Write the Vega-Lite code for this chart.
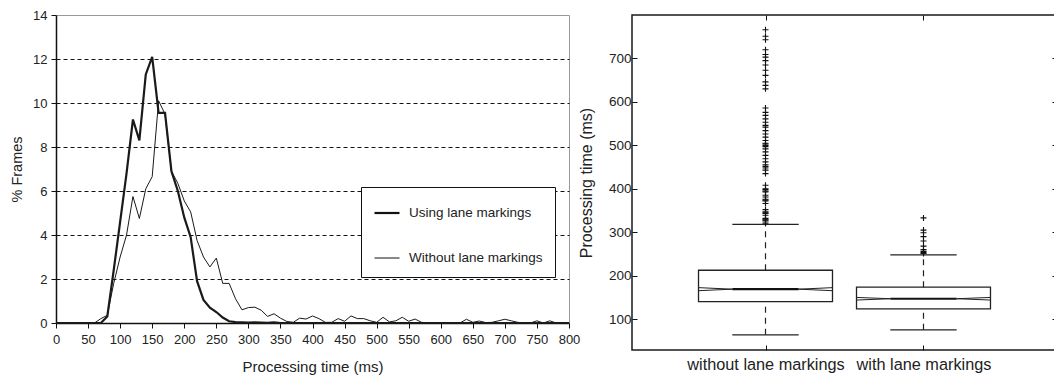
{
  "$schema": "https://vega.github.io/schema/vega-lite/v6.json",
  "padding": {"left": 9, "top": 8, "right": 0, "bottom": 0},
  "autosize": {"type": "pad"},
  "background": "white",
  "config": {
    "font": "Liberation Sans",
    "axis": {"labelFont": "Liberation Sans", "titleFont": "Liberation Sans", "titleFontWeight": "normal", "labelColor": "#222", "titleColor": "#222", "domainColor": "#111", "tickColor": "#111", "grid": false, "labelFlush": false, "labelOverlap": false},
    "legend": {"labelFont": "Liberation Sans", "labelColor": "#222"}
  },
  "bounds": "flush",
  "spacing": 63,
  "datasets": {
    "freq": [
      {"t": 0, "using": 0, "without": 0}, {"t": 10, "using": 0, "without": 0}, {"t": 20, "using": 0, "without": 0},
      {"t": 30, "using": 0, "without": 0}, {"t": 40, "using": 0, "without": 0}, {"t": 50, "using": 0, "without": 0},
      {"t": 60, "using": 0, "without": 0}, {"t": 70, "using": 0, "without": 0.2}, {"t": 80, "using": 0.3, "without": 0.35},
      {"t": 90, "using": 2.4, "without": 1.8}, {"t": 100, "using": 4.6, "without": 3.0}, {"t": 110, "using": 6.8, "without": 4.0},
      {"t": 120, "using": 9.25, "without": 5.75}, {"t": 130, "using": 8.3, "without": 4.75}, {"t": 140, "using": 11.3, "without": 6.1},
      {"t": 150, "using": 12.1, "without": 6.65}, {"t": 160, "using": 9.55, "without": 10.1}, {"t": 170, "using": 9.55, "without": 9.5},
      {"t": 180, "using": 6.9, "without": 6.9}, {"t": 190, "using": 6.0, "without": 6.35}, {"t": 200, "using": 4.8, "without": 5.55},
      {"t": 210, "using": 3.9, "without": 5.05}, {"t": 220, "using": 1.9, "without": 3.75}, {"t": 230, "using": 1.05, "without": 3.0},
      {"t": 240, "using": 0.7, "without": 2.55}, {"t": 250, "using": 0.5, "without": 2.95}, {"t": 260, "using": 0.25, "without": 1.8},
      {"t": 270, "using": 0.08, "without": 1.8}, {"t": 280, "using": 0.04, "without": 1.1}, {"t": 290, "using": 0.03, "without": 0.6},
      {"t": 300, "using": 0.02, "without": 0.7}, {"t": 310, "using": 0.03, "without": 0.72}, {"t": 320, "using": 0.02, "without": 0.58},
      {"t": 330, "using": 0.01, "without": 0.3}, {"t": 340, "using": 0.03, "without": 0.42}, {"t": 350, "using": 0, "without": 0.22},
      {"t": 360, "using": 0, "without": 0.07}, {"t": 370, "using": 0, "without": 0.03}, {"t": 380, "using": 0, "without": 0.22},
      {"t": 390, "using": 0, "without": 0.18}, {"t": 400, "using": 0, "without": 0.32}, {"t": 410, "using": 0, "without": 0.2},
      {"t": 420, "using": 0, "without": 0.03}, {"t": 430, "using": 0, "without": 0.03}, {"t": 440, "using": 0, "without": 0.2},
      {"t": 450, "using": 0, "without": 0.08}, {"t": 460, "using": 0, "without": 0.32}, {"t": 470, "using": 0, "without": 0.2},
      {"t": 480, "using": 0, "without": 0.2}, {"t": 490, "using": 0, "without": 0.1}, {"t": 500, "using": 0, "without": 0.03},
      {"t": 510, "using": 0, "without": 0.26}, {"t": 520, "using": 0, "without": 0.05}, {"t": 530, "using": 0, "without": 0.1},
      {"t": 540, "using": 0, "without": 0.26}, {"t": 550, "using": 0, "without": 0.08}, {"t": 560, "using": 0, "without": 0.18},
      {"t": 570, "using": 0, "without": 0.03}, {"t": 580, "using": 0, "without": 0.01}, {"t": 590, "using": 0, "without": 0},
      {"t": 600, "using": 0, "without": 0}, {"t": 610, "using": 0, "without": 0}, {"t": 620, "using": 0, "without": 0},
      {"t": 630, "using": 0, "without": 0}, {"t": 640, "using": 0, "without": 0.17}, {"t": 650, "using": 0, "without": 0.03},
      {"t": 660, "using": 0, "without": 0.09}, {"t": 670, "using": 0, "without": 0.02}, {"t": 680, "using": 0, "without": 0.03},
      {"t": 690, "using": 0, "without": 0.1}, {"t": 700, "using": 0, "without": 0.17}, {"t": 710, "using": 0, "without": 0.1},
      {"t": 720, "using": 0, "without": 0.03}, {"t": 730, "using": 0, "without": 0}, {"t": 740, "using": 0, "without": 0},
      {"t": 750, "using": 0, "without": 0.1}, {"t": 760, "using": 0, "without": 0}, {"t": 770, "using": 0, "without": 0.1},
      {"t": 780, "using": 0, "without": 0}, {"t": 790, "using": 0, "without": 0}, {"t": 800, "using": 0, "without": 0}
    ],
    "boxes": [
      {"group": "without lane markings", "pos": 1, "lower": 64, "q1": 140.5, "notchLo": 165.5, "median": 169, "notchHi": 172.5, "q3": 212.6, "upper": 318},
      {"group": "with lane markings", "pos": 2, "lower": 75.4, "q1": 123.7, "notchLo": 144, "median": 147, "notchHi": 150, "q3": 173.6, "upper": 248}
    ],
    "outliers": [
      {"pos": 1, "value": 766}, {"pos": 1, "value": 751}, {"pos": 1, "value": 743}, {"pos": 1, "value": 720},
      {"pos": 1, "value": 709}, {"pos": 1, "value": 703}, {"pos": 1, "value": 695}, {"pos": 1, "value": 685},
      {"pos": 1, "value": 673}, {"pos": 1, "value": 661}, {"pos": 1, "value": 646}, {"pos": 1, "value": 638},
      {"pos": 1, "value": 630}, {"pos": 1, "value": 586}, {"pos": 1, "value": 576}, {"pos": 1, "value": 569},
      {"pos": 1, "value": 561}, {"pos": 1, "value": 553}, {"pos": 1, "value": 546}, {"pos": 1, "value": 542},
      {"pos": 1, "value": 534}, {"pos": 1, "value": 526}, {"pos": 1, "value": 519}, {"pos": 1, "value": 511},
      {"pos": 1, "value": 505}, {"pos": 1, "value": 503}, {"pos": 1, "value": 500}, {"pos": 1, "value": 497},
      {"pos": 1, "value": 492}, {"pos": 1, "value": 485}, {"pos": 1, "value": 477}, {"pos": 1, "value": 469},
      {"pos": 1, "value": 462}, {"pos": 1, "value": 455}, {"pos": 1, "value": 451}, {"pos": 1, "value": 448},
      {"pos": 1, "value": 443}, {"pos": 1, "value": 435}, {"pos": 1, "value": 408}, {"pos": 1, "value": 400},
      {"pos": 1, "value": 398}, {"pos": 1, "value": 395}, {"pos": 1, "value": 393}, {"pos": 1, "value": 385},
      {"pos": 1, "value": 381}, {"pos": 1, "value": 376}, {"pos": 1, "value": 374}, {"pos": 1, "value": 372},
      {"pos": 1, "value": 366}, {"pos": 1, "value": 352}, {"pos": 1, "value": 347}, {"pos": 1, "value": 345},
      {"pos": 1, "value": 343}, {"pos": 1, "value": 339}, {"pos": 1, "value": 332}, {"pos": 1, "value": 330},
      {"pos": 1, "value": 328}, {"pos": 1, "value": 326}, {"pos": 1, "value": 321},
      {"pos": 2, "value": 333}, {"pos": 2, "value": 305}, {"pos": 2, "value": 299}, {"pos": 2, "value": 290},
      {"pos": 2, "value": 280}, {"pos": 2, "value": 268}, {"pos": 2, "value": 260}, {"pos": 2, "value": 256},
      {"pos": 2, "value": 253}, {"pos": 2, "value": 251}
    ]
  },
  "hconcat": [
    {
      "width": 513,
      "height": 308,
      "view": {"stroke": "#999", "strokeWidth": 1},
      "data": {"name": "freq"},
      "transform": [{"fold": ["using", "without"], "as": ["series", "pct"]}],
      "mark": {"type": "line", "color": "#1a1a1a"},
      "encoding": {
        "x": {
          "field": "t", "type": "quantitative",
          "scale": {"domain": [0, 800], "nice": false},
          "axis": {"values": [0, 50, 100, 150, 200, 250, 300, 350, 400, 450, 500, 550, 600, 650, 700, 750, 800], "title": "Processing time (ms)", "domainWidth": 1.5, "tickSize": 5, "labelPadding": 5, "labelFontSize": 13, "titleFontSize": 15, "titlePadding": 13}
        },
        "y": {
          "field": "pct", "type": "quantitative",
          "scale": {"domain": [0, 14], "nice": false},
          "axis": {"values": [0, 2, 4, 6, 8, 10, 12, 14], "title": "% Frames", "grid": true, "gridDash": [4, 3], "gridColor": "#111", "gridWidth": 1,
                   "gridOpacity": {"condition": {"test": "datum.value == 14 || datum.value == 0", "value": 0}, "value": 1},
                   "domainWidth": 1.5, "tickSize": 5, "labelPadding": 4, "labelFontSize": 13, "titleFontSize": 14.5, "titlePadding": 8}
        },
        "strokeWidth": {
          "field": "series", "type": "nominal",
          "scale": {"domain": ["using", "without"], "range": [2.2, 1]},
          "legend": {"orient": "none", "legendX": 305, "legendY": 172, "title": null, "strokeColor": "#111", "fillColor": "white", "padding": 12,
                     "symbolType": "stroke", "symbolSize": 625, "symbolStrokeColor": "#111", "rowPadding": 25, "labelFontSize": 13.5, "labelOffset": 8,
                     "labelExpr": "datum.label == 'using' ? 'Using lane markings' : 'Without lane markings'"}
        }
      }
    },
    {
      "width": 425,
      "height": 335,
      "view": {"stroke": "#1a1a1a", "strokeWidth": 1.5},
      "resolve": {"axis": {"x": "independent", "y": "independent"}},
      "layer": [
        {
          "data": {"name": "boxes"},
          "transform": [
            {"calculate": "datum.pos - 0.424", "as": "xl"},
            {"calculate": "datum.pos + 0.424", "as": "xr"},
            {"calculate": "datum.pos - 0.21", "as": "ml"},
            {"calculate": "datum.pos + 0.21", "as": "mr"}
          ],
          "resolve": {"axis": {"x": "independent", "y": "independent"}},
          "layer": [
            {
              "mark": {"type": "rect", "filled": false, "color": "#222", "strokeWidth": 1.3},
              "encoding": {
                "x": {"field": "xl", "type": "quantitative", "scale": {"domain": [0.155, 2.845], "nice": false, "zero": false},
                      "axis": {"orient": "bottom", "values": [1, 2], "labelExpr": "datum.value == 1 ? 'without lane markings' : 'with lane markings'", "title": null, "domain": false, "tickSize": -5, "labelPadding": 11, "labelFontSize": 16.3}},
                "x2": {"field": "xr"},
                "y": {"field": "q1", "type": "quantitative", "scale": {"domain": [29, 800], "nice": false, "zero": false},
                      "axis": {"orient": "left", "values": [100, 200, 300, 400, 500, 600, 700], "title": "Processing time (ms)", "domain": false, "tickSize": -5, "labelPadding": 6, "labelFontSize": 13.5, "titleFontSize": 16, "titlePadding": 14}},
                "y2": {"field": "q3"}
              }
            },
            {
              "mark": {"type": "rule", "color": "#222", "strokeWidth": 1.2, "strokeDash": [6, 5]},
              "encoding": {
                "x": {"field": "pos", "type": "quantitative", "axis": null},
                "y": {"field": "q3", "type": "quantitative", "axis": null},
                "y2": {"field": "upper"}
              }
            },
            {
              "mark": {"type": "rule", "color": "#222", "strokeWidth": 1.2, "strokeDash": [6, 5]},
              "encoding": {
                "x": {"field": "pos", "type": "quantitative", "axis": null},
                "y": {"field": "lower", "type": "quantitative", "axis": null},
                "y2": {"field": "q1"}
              }
            },
            {
              "mark": {"type": "rule", "color": "#222", "strokeWidth": 1.3},
              "encoding": {
                "x": {"field": "ml", "type": "quantitative", "axis": null},
                "x2": {"field": "mr"},
                "y": {"field": "upper", "type": "quantitative", "axis": null}
              }
            },
            {
              "mark": {"type": "rule", "color": "#222", "strokeWidth": 1.3},
              "encoding": {
                "x": {"field": "ml", "type": "quantitative", "axis": null},
                "x2": {"field": "mr"},
                "y": {"field": "lower", "type": "quantitative", "axis": null}
              }
            },
            {
              "mark": {"type": "rule", "color": "#111", "strokeWidth": 2.2},
              "encoding": {
                "x": {"field": "ml", "type": "quantitative", "axis": null},
                "x2": {"field": "mr"},
                "y": {"field": "median", "type": "quantitative", "axis": null}
              }
            },
            {
              "mark": {"type": "rule", "color": "#222", "strokeWidth": 1},
              "encoding": {
                "x": {"field": "xl", "type": "quantitative", "axis": null},
                "x2": {"field": "ml"},
                "y": {"field": "notchHi", "type": "quantitative", "axis": null},
                "y2": {"field": "median"}
              }
            },
            {
              "mark": {"type": "rule", "color": "#222", "strokeWidth": 1},
              "encoding": {
                "x": {"field": "xl", "type": "quantitative", "axis": null},
                "x2": {"field": "ml"},
                "y": {"field": "notchLo", "type": "quantitative", "axis": null},
                "y2": {"field": "median"}
              }
            },
            {
              "mark": {"type": "rule", "color": "#222", "strokeWidth": 1},
              "encoding": {
                "x": {"field": "mr", "type": "quantitative", "axis": null},
                "x2": {"field": "xr"},
                "y": {"field": "median", "type": "quantitative", "axis": null},
                "y2": {"field": "notchHi"}
              }
            },
            {
              "mark": {"type": "rule", "color": "#222", "strokeWidth": 1},
              "encoding": {
                "x": {"field": "mr", "type": "quantitative", "axis": null},
                "x2": {"field": "xr"},
                "y": {"field": "median", "type": "quantitative", "axis": null},
                "y2": {"field": "notchLo"}
              }
            },
            {
              "mark": {"type": "point", "opacity": 0},
              "encoding": {
                "x": {"field": "pos", "type": "quantitative", "scale": {"domain": [0.155, 2.845], "nice": false, "zero": false},
                      "axis": {"orient": "top", "values": [1, 2], "labels": false, "title": null, "domain": false, "tickSize": -5}},
                "y": {"field": "median", "type": "quantitative", "scale": {"domain": [29, 800], "nice": false, "zero": false},
                      "axis": {"orient": "right", "values": [100, 200, 300, 400, 500, 600, 700], "labels": false, "title": null, "domain": false, "tickSize": -5}}
              }
            }
          ]
        },
        {
          "data": {"name": "outliers"},
          "mark": {"type": "point", "shape": "M-1,0L1,0M0,-1L0,1", "filled": false, "size": 36, "strokeWidth": 1.1, "color": "#111", "opacity": 1},
          "encoding": {
            "x": {"field": "pos", "type": "quantitative", "axis": null},
            "y": {"field": "value", "type": "quantitative", "axis": null}
          }
        }
      ]
    }
  ]
}
